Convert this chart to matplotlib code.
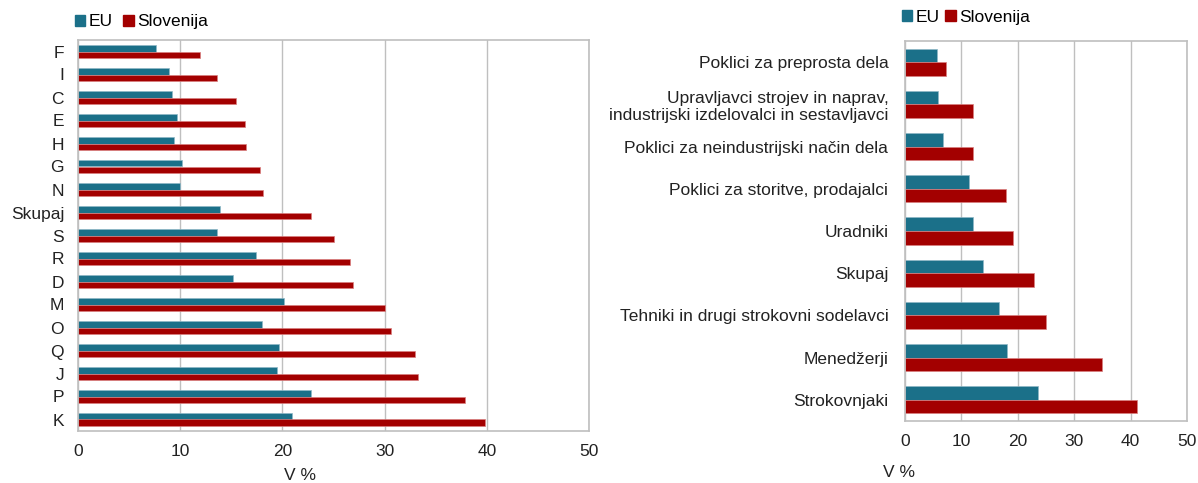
import numpy as np
import matplotlib
matplotlib.use("Agg")
import matplotlib.pyplot as plt
from matplotlib.patches import Patch

plt.rcParams['font.family'] = ['Liberation Sans', 'DejaVu Sans']
plt.rcParams['font.size'] = 12

# left chart: dejavnosti
dej = ['F', 'I', 'C', 'E', 'H', 'G', 'N', 'Skupaj', 'S', 'R', 'D', 'M', 'O', 'Q', 'J', 'P', 'K']
dej_eu = [7.6, 8.9, 9.2, 9.7, 9.4, 10.2, 10.0, 13.9, 13.6, 17.4, 15.2, 20.2, 18.0, 19.7, 19.5, 22.8, 20.9]
dej_si = [11.9, 13.6, 15.5, 16.3, 16.4, 17.8, 18.1, 22.8, 25.0, 26.6, 26.9, 30.0, 30.6, 33.0, 33.3, 37.9, 39.8]

# right chart: poklici
pok = ['Poklici za preprosta dela',
       'Upravljavci strojev in naprav,\nindustrijski izdelovalci in sestavljavci',
       'Poklici za neindustrijski način dela',
       'Poklici za storitve, prodajalci',
       'Uradniki', 'Skupaj',
       'Tehniki in drugi strokovni sodelavci',
       'Menedžerji', 'Strokovnjaki']
pok_eu = [5.6, 5.9, 6.8, 11.4, 12.0, 13.9, 16.6, 18.1, 23.5]
pok_si = [7.3, 12.0, 12.1, 17.9, 19.1, 22.9, 25.0, 34.9, 41.1]

c_eu = '#1B7089'
c_si = '#A30000'
grid_c = '#BFBFBF'

fig = plt.figure(figsize=(11.98, 4.83), dpi=100)
ax1 = fig.add_axes([78/1198, 1-431/483, 511/1198, 391/483])
ax2 = fig.add_axes([905/1198, 1-421/483, 282/1198, 380/483])


def draw(ax, cats, eu, si, h):
    y = np.arange(len(cats))
    ax.barh(y - h/2, eu, height=h, color=c_eu, edgecolor='#8FB8C6', linewidth=0.5)
    ax.barh(y + h/2, si, height=h, color=c_si, edgecolor='#D98080', linewidth=0.5)
    ax.set_yticks(y)
    ax.set_yticklabels(cats)
    ax.set_ylim(len(cats) - 0.5, -0.5)
    ax.set_xlim(0, 50)
    ax.set_xticks(range(0, 51, 10))
    ax.xaxis.grid(True, color=grid_c, linewidth=1)
    ax.set_axisbelow(True)
    ax.tick_params(length=0, labelsize=12.5, colors='#222222')
    ax.tick_params(axis='x', pad=9)
    for s in ax.spines.values():
        s.set_color(grid_c)
        s.set_linewidth(1.2)
    ax.set_xlabel('V %', fontsize=12.5, color='#222222', labelpad=5)
    handles = [Patch(color=c_eu, label='EU'), Patch(color=c_si, label='Slovenija')]
    return handles


hs = draw(ax1, dej, dej_eu, dej_si, 0.3)
ax1.tick_params(axis='y', pad=10)
ax1.xaxis.set_label_coords(0.435, -0.095)
ax1.legend(handles=hs, loc='lower left', bbox_to_anchor=(-0.02, 1.01), ncol=2, frameon=False,
           handlelength=0.6, handleheight=0.6, handletextpad=0.2, columnspacing=0.6, fontsize=12.5,
           borderaxespad=0)

hs = draw(ax2, pok, pok_eu, pok_si, 0.32)
ax2.tick_params(axis='y', pad=12)
ax2.xaxis.set_label_coords(-0.02, -0.115)
ax2.legend(handles=hs, loc='lower left', bbox_to_anchor=(-0.035, 1.025), ncol=2, frameon=False,
           handlelength=0.6, handleheight=0.6, handletextpad=0.2, columnspacing=0.3, fontsize=12.5,
           borderaxespad=0)
for t in ax2.get_yticklabels():
    t.set_multialignment('right')

fig.savefig('out.png', dpi=100)
